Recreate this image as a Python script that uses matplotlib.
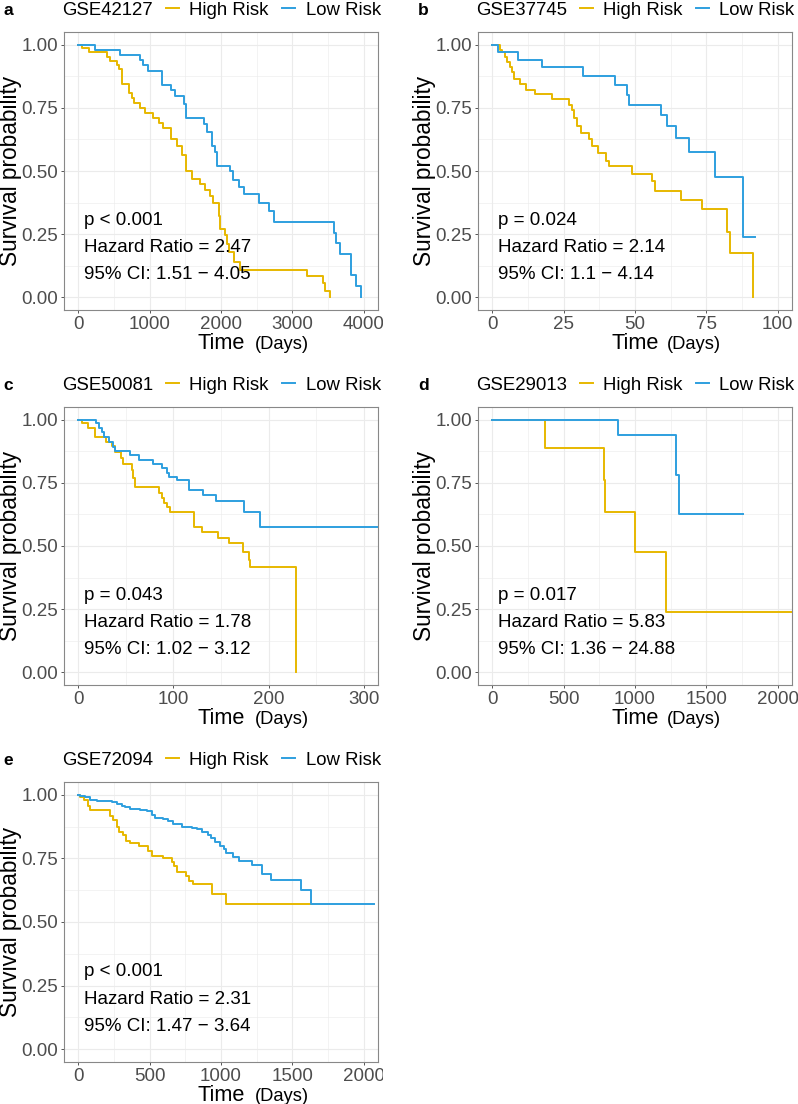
import matplotlib
matplotlib.use("Agg")
import matplotlib.pyplot as plt
from matplotlib.lines import Line2D
from matplotlib.transforms import Bbox, TransformedBbox

plt.rcParams['font.family'] = ['Liberation Sans', 'DejaVu Sans']

HIGH = "#E7B800"
LOW = "#2E9FDF"

# panel a, GSE42127
a_high_t = [0, 51, 145, 402, 449, 542, 565, 612, 706, 752, 776, 869, 939, 1047, 1126, 1182, 1299, 1383,
            1453, 1514, 1593, 1701, 1780, 1850, 1883, 1967, 1991, 2061, 2084, 2107, 2178, 2262, 3206,
            3425, 3463, 3533]
a_high_s = [1.0, 0.987, 0.97, 0.95, 0.935, 0.92, 0.905, 0.845, 0.81, 0.79, 0.77, 0.75, 0.73, 0.71, 0.69,
            0.67, 0.625, 0.60, 0.565, 0.50, 0.47, 0.45, 0.425, 0.40, 0.375, 0.32, 0.27, 0.245, 0.21,
            0.18, 0.14, 0.11, 0.083, 0.055, 0.027, 0.0]
a_low_t = [0, 229, 579, 869, 907, 977, 1173, 1299, 1360, 1477, 1509, 1766, 1804, 1874, 1921, 1944, 2131,
           2168, 2248, 2318, 2528, 2668, 2738, 3579, 3617, 3673, 3827, 3897, 3967]
a_low_s = [1.0, 0.98, 0.96, 0.94, 0.92, 0.895, 0.84, 0.82, 0.795, 0.765, 0.71, 0.685, 0.655, 0.60, 0.575,
           0.52, 0.50, 0.465, 0.435, 0.41, 0.375, 0.34, 0.30, 0.255, 0.215, 0.17, 0.088, 0.046, 0.0]

# panel b, GSE37745
b_high_t = [0, 2.7, 3.3, 4.4, 5.3, 6.2, 6.9, 7.7, 9.7, 11.8, 15, 20.8, 27, 27.8, 28.6, 29.8, 31, 33.9,
            35, 37.1, 40, 41, 48.8, 56, 57, 66, 73.4, 82.4, 83.3, 91.2]
b_high_s = [1.0, 0.98, 0.97, 0.95, 0.93, 0.91, 0.89, 0.865, 0.845, 0.82, 0.805, 0.785, 0.76, 0.74, 0.71,
            0.68, 0.65, 0.625, 0.60, 0.57, 0.54, 0.52, 0.49, 0.46, 0.42, 0.385, 0.35, 0.26, 0.175, 0.0]
b_low_t = [0, 1.9, 9.1, 17.3, 31.7, 43, 47.1, 48, 59.1, 61.1, 64.3, 69, 78, 88, 92]
b_low_s = [1.0, 0.97, 0.94, 0.91, 0.875, 0.84, 0.80, 0.76, 0.72, 0.68, 0.63, 0.575, 0.475, 0.24, 0.24]

# panel c, GSE50081
c_high_t = [0, 3.8, 9.8, 17.8, 29, 35, 39, 45, 47.5, 56, 58, 60, 85, 88, 90, 93, 96.5, 121.7, 130, 147,
            158, 173, 179, 180, 228.7]
c_high_s = [1.0, 0.985, 0.965, 0.93, 0.91, 0.895, 0.87, 0.85, 0.825, 0.80, 0.77, 0.735, 0.71, 0.69, 0.67,
            0.655, 0.635, 0.575, 0.555, 0.53, 0.51, 0.475, 0.445, 0.415, 0.0]
c_low_t = [0, 18.9, 21.3, 24.8, 27.3, 31.8, 36.4, 38.8, 54.5, 63.3, 79, 87.8, 93, 95.8, 104, 116.8, 131.5,
           144.8, 174, 191, 330]
c_low_s = [1.0, 0.985, 0.965, 0.95, 0.93, 0.91, 0.89, 0.875, 0.86, 0.84, 0.825, 0.81, 0.79, 0.775, 0.76,
           0.72, 0.70, 0.68, 0.635, 0.575, 0.575]

# panel d, GSE29013
d_high_t = [0, 366, 786, 793, 1001, 1218, 2200]
d_high_s = [1.0, 0.889, 0.762, 0.635, 0.476, 0.238, 0.238]
d_low_t = [0, 880, 1288, 1307, 1760]
d_low_s = [1.0, 0.9375, 0.781, 0.625, 0.625]

# panel e, GSE72094
e_high_t = [0, 14, 37, 65, 84, 219, 242, 270, 286, 312, 335, 363, 428, 491, 514, 596, 654, 670, 694, 754,
            777, 805, 934, 1034, 1686]
e_high_s = [1.0, 0.993, 0.98, 0.955, 0.94, 0.915, 0.90, 0.875, 0.855, 0.84, 0.82, 0.81, 0.80, 0.78, 0.76,
            0.75, 0.735, 0.72, 0.695, 0.68, 0.66, 0.65, 0.61, 0.57, 0.57]
e_low_t = [0, 14, 49, 84, 130, 235, 270, 305, 328, 363, 433, 480, 514, 538, 596, 631, 666, 724, 794, 829,
           864, 910, 927, 957, 992, 1020, 1038, 1085, 1127, 1220, 1290, 1353, 1562, 1632, 2074]
e_low_s = [1.0, 0.995, 0.99, 0.98, 0.975, 0.97, 0.965, 0.955, 0.95, 0.945, 0.94, 0.935, 0.92, 0.91, 0.905,
           0.895, 0.885, 0.875, 0.87, 0.865, 0.855, 0.84, 0.83, 0.815, 0.80, 0.785, 0.77, 0.755, 0.74,
           0.725, 0.69, 0.665, 0.625, 0.57, 0.57]

letters = ["a", "b", "c", "d", "e"]
cohorts = ["GSE42127", "GSE37745", "GSE50081", "GSE29013", "GSE72094"]
pvals = ["p < 0.001", "p = 0.024", "p = 0.043", "p = 0.017", "p < 0.001"]
hrs = ["2.47", "2.14", "1.78", "5.83", "2.31"]
cis = ["1.51 \u2212 4.05", "1.1 \u2212 4.14", "1.02 \u2212 3.12", "1.36 \u2212 24.88", "1.47 \u2212 3.64"]
xticks = [[0, 1000, 2000, 3000, 4000], [0, 25, 50, 75, 100], [0, 100, 200, 300],
          [0, 500, 1000, 1500, 2000], [0, 500, 1000, 1500, 2000]]
xlims = [(-200, 4200), (-5, 105), (-15, 315), (-100, 2100), (-100, 2100)]

curves = [(a_high_t, a_high_s, a_low_t, a_low_s), (b_high_t, b_high_s, b_low_t, b_low_s),
          (c_high_t, c_high_s, c_low_t, c_low_s), (d_high_t, d_high_s, d_low_t, d_low_s),
          (e_high_t, e_high_s, e_low_t, e_low_s)]

W, H = 798, 1104
fig = plt.figure(figsize=(W / 100, H / 100), dpi=100)

# pixel boxes (left, top, right, bottom)
boxes = [(64, 32, 378, 310), (478, 32, 792, 310), (64, 407, 378, 685), (478, 407, 792, 685),
         (64, 782, 378, 1062)]
lab_x = [11, 424, 11, 424, 11]
leg_x = [(62, 166, 189, 282, 305.5), (476, 580, 603, 696, 719)]


def fx(x):
    return x / W


def fy(y):
    return 1 - y / H


for i in range(5):
    l, t, r, b = boxes[i]
    ax = fig.add_axes([l / W, 1 - b / H, (r - l) / W, (b - t) / H])
    ht, hs, lt, ls = curves[i]
    ax.step(ht, hs, where='post', color=HIGH, lw=1.4, zorder=3)
    ax.step(lt, ls, where='post', color=LOW, lw=1.4, zorder=3)

    ax.set_xlim(*xlims[i])
    ax.set_ylim(-0.05, 1.05)
    xt = xticks[i]
    ax.set_xticks(xt)
    ax.set_xticklabels([str(v) for v in xt])
    ax.set_xticks([(xt[k] + xt[k + 1]) / 2 for k in range(len(xt) - 1)], minor=True)
    ax.set_yticks([0, 0.25, 0.5, 0.75, 1.0])
    ax.set_yticklabels(["0.00", "0.25", "0.50", "0.75", "1.00"])
    ax.set_yticks([0.125, 0.375, 0.625, 0.875], minor=True)
    ax.grid(which='major', color='#EBEBEB', lw=0.8, zorder=0)
    ax.grid(which='minor', color='#EBEBEB', lw=0.4, zorder=0)
    ax.set_axisbelow(True)
    ax.tick_params(which='major', length=2.2, width=0.7, color='#555555', pad=2.2,
                   labelsize=13.5, labelcolor='#4D4D4D')
    ax.tick_params(which='minor', length=0)
    for s in ax.spines.values():
        s.set_color('#888888')
        s.set_linewidth(0.8)

    # clip x tick labels to the panel's own cell
    cell_r = 383 if l < 400 else W
    clip = TransformedBbox(Bbox.from_extents(0, 0, cell_r / W, 1), fig.transFigure)
    for lab in ax.get_xticklabels():
        lab.set_clip_box(clip)
        lab.set_clip_on(True)

    # annotation
    for yy, txt in zip([0.322, 0.225, 0.128], [pvals[i], "Hazard Ratio = " + hrs[i], "95% CI: " + cis[i]]):
        ax.text(0.064, yy, txt, transform=ax.transAxes, fontsize=13.5, va='center', ha='left',
                color='black', zorder=5)

    # axis titles
    fig.text(fx(lab_x[i]), fy((t + b) / 2), "Survival probability", rotation=90, fontsize=16.3,
             ha='center', va='center')
    xt_x = (245, 255) if l < 400 else (659, 667)
    fig.text(fx(xt_x[0]), fy(b + 39), "Time", fontsize=15.7, ha='right', va='baseline')
    fig.text(fx(xt_x[1]), fy(b + 39), "(Days)", fontsize=13.2, ha='left', va='baseline')

    # legend row
    base = t - 17
    lx = leg_x[0] if l < 400 else leg_x[1]
    letter_x = 3 if l < 400 else 418
    fig.text(fx(letter_x), fy(base), letters[i], fontsize=12.5, fontweight='bold', ha='left', va='baseline')
    fig.text(fx(lx[0]), fy(base), cohorts[i], fontsize=13.4, ha='left', va='baseline')
    fig.add_artist(Line2D([fx(lx[1]), fx(lx[1] + 12.5)], [fy(base - 6.7)] * 2, color=HIGH, lw=1.4,
                          transform=fig.transFigure))
    fig.text(fx(lx[2]), fy(base), "High Risk", fontsize=13.4, ha='left', va='baseline')
    fig.add_artist(Line2D([fx(lx[3]), fx(lx[3] + 12.5)], [fy(base - 6.7)] * 2, color=LOW, lw=1.4,
                          transform=fig.transFigure))
    fig.text(fx(lx[4]), fy(base), "Low Risk", fontsize=13.4, ha='left', va='baseline')

fig.savefig("out.png", dpi=100)
